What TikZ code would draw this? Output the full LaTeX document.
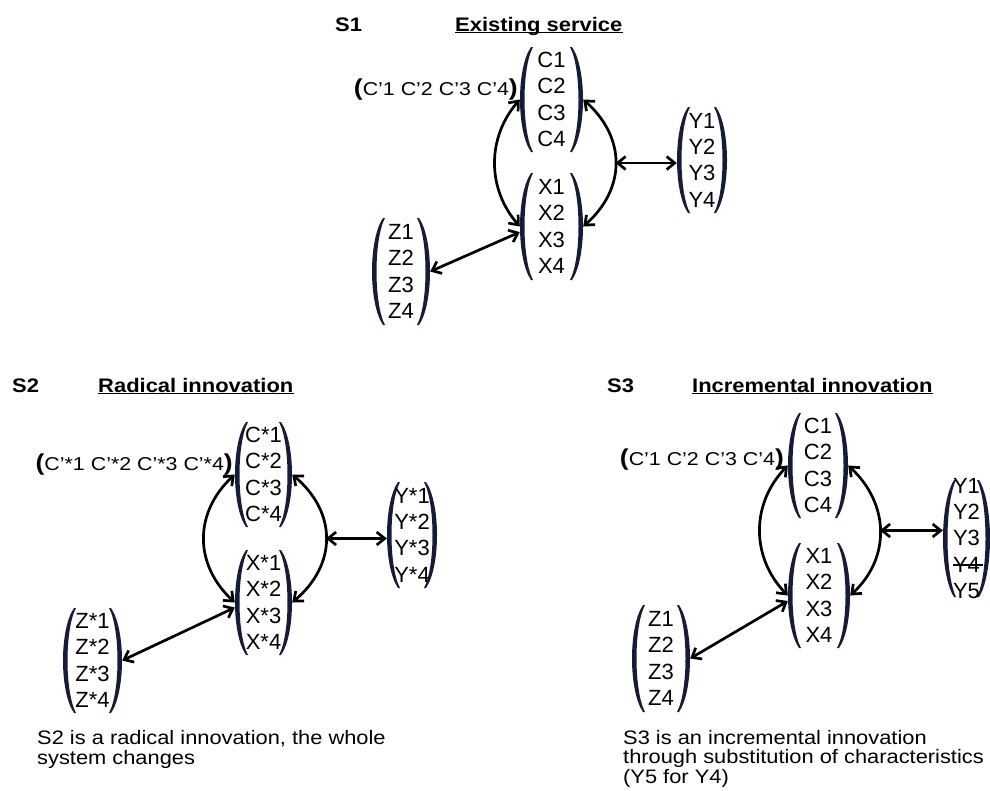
\documentclass[tikz,border=0pt]{standalone}
\usepackage{fontspec}
\setmainfont{Liberation Sans}
\newfontfamily\titlefont[FakeStretch=1.12]{Liberation Sans}
\newfontfamily\notefont[FakeStretch=1.15]{Liberation Sans}
\usetikzlibrary{arrows.meta,calc}
\definecolor{parcol}{RGB}{22,27,58}

% column vector: name, centre x, centre y, width, height, rows
\newcommand\colvec[6]{%
  \fill[parcol]
    ({#2-#4/2+11},{#3-#5/2}) .. controls ({#2-#4/2-3.67},{#3-0.3*#5}) and ({#2-#4/2-3.67},{#3+0.3*#5}) .. ({#2-#4/2+11},{#3+#5/2})
    -- ({#2-#4/2+13},{#3+#5/2}) .. controls ({#2-#4/2+1.67},{#3+0.3*#5}) and ({#2-#4/2+1.67},{#3-0.3*#5}) .. ({#2-#4/2+13},{#3-#5/2}) -- cycle;
  \fill[parcol]
    ({#2+#4/2-11},{#3-#5/2}) .. controls ({#2+#4/2+3.67},{#3-0.3*#5}) and ({#2+#4/2+3.67},{#3+0.3*#5}) .. ({#2+#4/2-11},{#3+#5/2})
    -- ({#2+#4/2-13},{#3+#5/2}) .. controls ({#2+#4/2-1.67},{#3+0.3*#5}) and ({#2+#4/2-1.67},{#3-0.3*#5}) .. ({#2+#4/2-13},{#3-#5/2}) -- cycle;
  \node[vec, minimum width=#4pt, minimum height=#5pt] (#1) at (#2,#3) {#6};
}
\newcommand\bigpar[1]{{\fontsize{23}{23}\selectfont\bfseries #1}}

\tikzset{
  vec/.style={inner sep=0pt, align=center, font=\fontsize{22}{26.3}\selectfont},
  ttl/.style={inner sep=0pt, font=\titlefont\fontsize{19.6}{22}\selectfont\bfseries},
  lab/.style={inner sep=0pt, font=\notefont\fontsize{18.6}{22}\selectfont},
  note/.style={inner sep=0pt, align=left, font=\titlefont\fontsize{19.5}{19.7}\selectfont},
  link/.style={line width=2.7pt, <->, >={Straight Barb[length=8pt,width=13pt]}},
  uline/.style={line width=1.6pt}
}

\begin{document}
\begin{tikzpicture}[x=1pt,y=-1pt]
\useasboundingbox (0,0) rectangle (990,790);

% ---------- S1: existing service ----------
\node[ttl, anchor=base west] (s1n) at (335,31) {S1};
\node[ttl, anchor=base west] (s1t) at (455,31) {Existing service};
\draw[uline] ([yshift=-1.5pt]s1t.base west) -- ([yshift=-1.5pt]s1t.base east);

\colvec{s1c}{551.5}{99.5}{63}{105}{C1\\C2\\C3\\C4}
\colvec{s1x}{551.5}{226.5}{63}{107}{X1\\X2\\X3\\X4}
\colvec{s1y}{702}{160}{50}{106}{Y1\\Y2\\Y3\\Y4}
\colvec{s1z}{401}{271.5}{58}{107}{Z1\\Z2\\Z3\\Z4}
\node[lab, anchor=base east] (s1l) at (518,95) {\bigpar{(}C’1 C’2 C’3 C’4\bigpar{)}};

\draw[link] (s1c.west) .. controls +(-33,38) and +(-33,-38) .. (s1x.west);
\draw[link] (s1c.east) .. controls +(43,38) and +(43,-38) .. (s1x.east) coordinate[pos=0.5] (s1m);
\draw[link] (s1m) -- (s1m -| s1y.west);
\draw[link] (s1z.east) -- (s1x.190);

% ---------- S2: radical innovation ----------
\node[ttl, anchor=base west] (s2n) at (12,392) {S2};
\node[ttl, anchor=base west] (s2t) at (98,392) {Radical innovation};
\draw[uline] ([yshift=-1.5pt]s2t.base west) -- ([yshift=-1.5pt]s2t.base east);

\colvec{s2c}{263.5}{474.5}{57}{105}{C*1\\C*2\\C*3\\C*4}
\colvec{s2x}{263.5}{602.5}{57}{105}{X*1\\X*2\\X*3\\X*4}
\colvec{s2y}{412}{535}{50}{106}{Y*1\\Y*2\\Y*3\\Y*4}
\colvec{s2z}{92.5}{660.5}{59}{105}{Z*1\\Z*2\\Z*3\\Z*4}
\node[lab, anchor=base east] (s2l) at (233,470) {\bigpar{(}C’*1 C’*2 C’*3 C’*4\bigpar{)}};

\draw[link] (s2c.west) .. controls +(-41,38) and +(-41,-38) .. (s2x.west);
\draw[link] (s2c.east) .. controls +(45,38) and +(45,-38) .. (s2x.east) coordinate[pos=0.5] (s2m);
\draw[link] (s2m) -- (s2m -| s2y.west);
\draw[link] (s2z.east) -- (s2x.190);

% the base anchor of a multi-line node sits on its last line
\node[note, anchor=base west] (s2cap) at (37,764) {S2 is a radical innovation, the whole\\system changes};

% ---------- S3: incremental innovation ----------
\node[ttl, anchor=base west] (s3n) at (607,392) {S3};
\node[ttl, anchor=base west] (s3t) at (692,392) {Incremental innovation};
\draw[uline] ([yshift=-1.5pt]s3t.base west) -- ([yshift=-1.5pt]s3t.base east);

\colvec{s3c}{818}{465.5}{60}{105}{C1\\C2\\C3\\C4}
\colvec{s3x}{819}{595.5}{62}{105}{X1\\X2\\X3\\X4}
\colvec{s3y}{966.5}{538.5}{47}{117}{Y1\\Y2\\Y3\\\rlap{\rule[6.5pt]{30pt}{1.4pt}}Y4\\Y5}
\colvec{s3z}{661}{658.5}{58}{107}{Z1\\Z2\\Z3\\Z4}
\node[lab, anchor=base east] (s3l) at (784,465) {\bigpar{(}C’1 C’2 C’3 C’4\bigpar{)}};

\draw[link] (s3c.west) .. controls +(-37,38) and +(-37,-38) .. (s3x.west);
\draw[link] (s3c.east) .. controls +(41,38) and +(41,-38) .. (s3x.east) coordinate[pos=0.5] (s3m);
\draw[link] (s3m) -- (s3m -| s3y.west);
\draw[link] (s3z.east) -- (s3x.190);

\node[note, anchor=base west] (s3cap) at (623,783.4) {S3 is an incremental innovation\\through substitution of characteristics\\(Y5 for Y4)};
\end{tikzpicture}
\end{document}
